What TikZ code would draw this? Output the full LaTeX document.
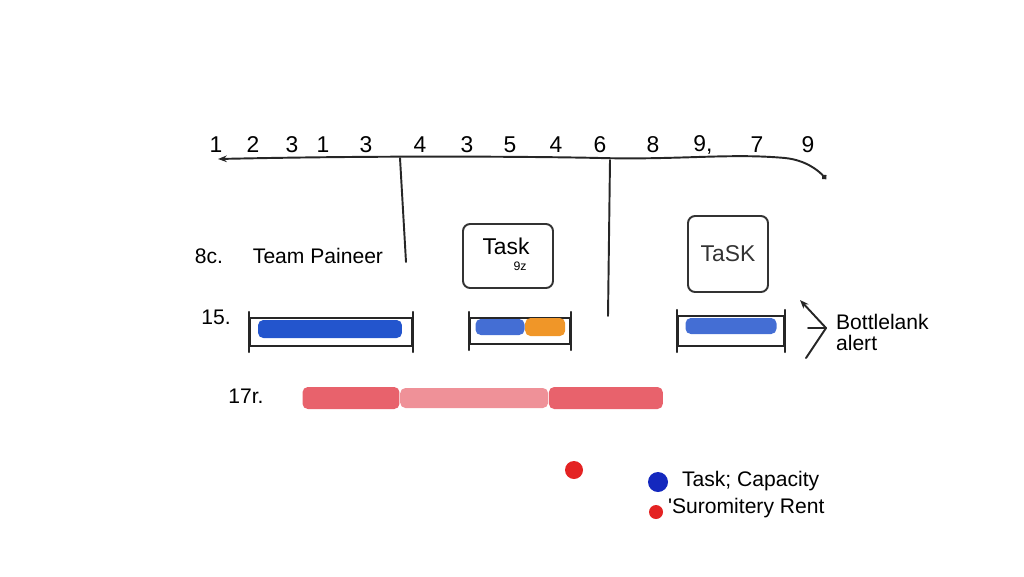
\documentclass[tikz,border=0pt]{standalone}
\usepackage{fontspec}
\setmainfont{Liberation Sans}
\usepackage{tikz}
\usetikzlibrary{arrows.meta,positioning,calc}
\definecolor{inkblue}{RGB}{35,85,205}
\definecolor{dotblue}{RGB}{20,40,190}
\definecolor{inkorange}{RGB}{240,150,40}
\definecolor{inkred}{RGB}{232,98,108}
\definecolor{dotred}{RGB}{228,35,35}

\begin{document}
\begin{tikzpicture}[
    x=0.02cm, y=-0.02cm,
    pen/.style={line width=1.1pt, black!85, line cap=round},
    tick/.style={font=\fontsize{13}{15}\selectfont, inner sep=0pt},
    lbl/.style={font=\fontsize{12}{14}\selectfont, inner sep=1pt},
    taskbox/.style={draw, line width=1.1pt, black!80, rounded corners=4pt,
                    font=\fontsize{13}{15}\selectfont},
    frame/.style={draw, line width=1.1pt, black!85, inner sep=0pt},
    wash/.style={rounded corners=3pt, inner sep=0pt},
    dot/.style={circle, inner sep=0pt},
    arr/.style={-{Stealth[length=5pt]}, pen}
  ]
  \useasboundingbox (0,0) rectangle (1024,576);

  % time axis
  \coordinate (axL) at (218,159);
  \coordinate (axR) at (826,179);
  \draw[pen, {Stealth[length=5pt]}-{Circle[length=3pt]}] (axL)
    .. controls (400,155) and (560,157) .. (600,158)
    .. controls (680,160) and (730,153) .. (785,158)
    .. controls (805,160) and (818,170) .. (axR);
  \foreach \n/\x/\t in {a/216/1, b/253/2, c/292/3, d/323/1, e/366/3,
                        f/420/4, g/467/3, h/510/5, i/556/4, j/600/6,
                        k/653/8, l/703/{9,}, m/757/7, n/808/9}
    \node[tick] (t\n) at (\x,145) {\t};

  % dividers
  \coordinate (d1a) at (400,158);
  \coordinate (d1b) at (406,262);
  \coordinate (d2a) at (610,160);
  \coordinate (d2b) at (608,316);
  \draw[pen] (d1a) -- (d1b);
  \draw[pen] (d2a) -- (d2b);

  % row labels
  \node[lbl] (r1) at (209,256) {8c.};
  \node[lbl] (team) at (318,256) {Team Paineer};
  \node[lbl] (r2) at (216,317) {15.};
  \node[lbl] (r3) at (246,396) {17r.};

  % task boxes
  \node[taskbox, minimum width=1.8cm, minimum height=1.28cm] (task1) at (508,256) {};
  \node[font=\fontsize{13}{15}\selectfont] (task1t) at (506,246) {Task};
  \node[font=\fontsize{7}{8}\selectfont] (task1s) at (520,266) {9z};
  \node[taskbox, minimum width=1.6cm, minimum height=1.52cm] (task2) at (728,254) {TaSK};

  % capacity bars
  \node[frame, minimum width=3.24cm, minimum height=0.56cm] (bar1) at (331,332) {};
  \node[wash, fill=inkblue, minimum width=2.88cm, minimum height=0.36cm] (fill1) at (330,329) {};
  \node[frame, minimum width=2.0cm, minimum height=0.52cm] (bar2) at (520,331) {};
  \node[wash, fill=inkblue!85, minimum width=0.98cm, minimum height=0.32cm] (fill2a) at (500,327) {};
  \node[wash, fill=inkorange, minimum width=0.8cm, minimum height=0.36cm, right=0pt of fill2a] (fill2b) {};
  \node[frame, minimum width=2.12cm, minimum height=0.6cm] (bar3) at (731,331) {};
  \node[wash, fill=inkblue!85, minimum width=1.82cm, minimum height=0.32cm] (fill3) at (731,326) {};
  \foreach \b in {bar1,bar2,bar3} {
    \draw[pen] ([yshift=3pt]\b.north west) -- ([yshift=-3pt]\b.south west);
    \draw[pen] ([yshift=3pt]\b.north east) -- ([yshift=-3pt]\b.south east);
  }

  % bottleneck alert
  \coordinate (btop) at (800,300);
  \coordinate (bmid) at (826,328);
  \coordinate (bbot) at (806,358);
  \coordinate (bstub) at (808,328);
  \draw[arr] (bmid) -- (btop);
  \draw[pen] (bmid) -- (bbot);
  \draw[pen] (bstub) -- (bmid);
  \node[lbl, anchor=west] (alert1) at (834,322) {Bottlelank};
  \node[lbl, anchor=west] (alert2) at (834,343) {alert};

  % red timeline
  \node[wash, fill=inkred, minimum width=1.94cm, minimum height=0.44cm] (red1) at (351,398) {};
  \node[wash, fill=inkred!70, minimum width=2.96cm, minimum height=0.40cm, right=0pt of red1] (red2) {};
  \node[wash, fill=inkred, minimum width=2.28cm, minimum height=0.44cm, right=0pt of red2] (red3) {};

  % legend
  \node[dot, fill=dotred, minimum size=0.36cm] (rdot) at (574,470) {};
  \node[dot, fill=dotblue, minimum size=0.40cm] (bdot) at (658,482) {};
  \node[lbl, anchor=west] (leg1) at (680,481) {Task; Capacity};
  \node[dot, fill=dotred, minimum size=0.28cm] (sdot) at (656,512) {};
  \node[lbl, anchor=west] (leg2) at (666,508) {\textquotesingle Suromitery Rent};
\end{tikzpicture}
\end{document}
